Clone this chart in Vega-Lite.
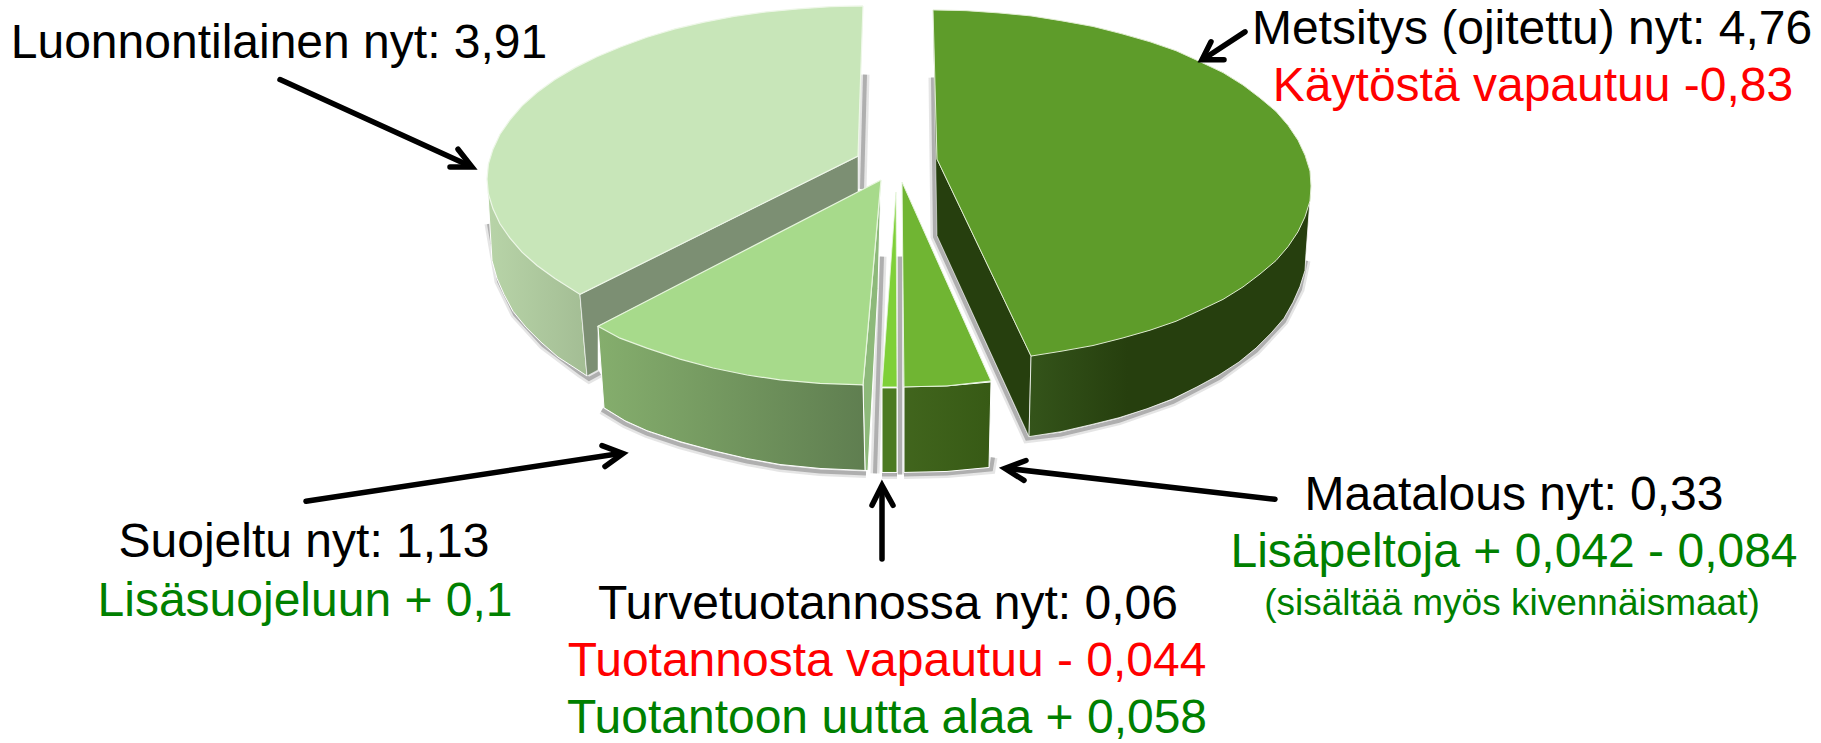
{"$schema":"https://vega.github.io/schema/vega-lite/v6.json","width":1821,"height":743,"padding":0,"autosize":{"type":"fit","contains":"padding"},"background":"white","config":{"view":{"stroke":null}},
"datasets":{
"faces":[
{"part":"s1","i":0,"x":865,"y":75},{"part":"s1","i":1,"x":862,"y":190},
{"part":"s2","i":0,"x":489,"y":225},{"part":"s2","i":1,"x":493,"y":248},{"part":"s2","i":2,"x":499,"y":283},{"part":"s2","i":3,"x":515,"y":316},{"part":"s2","i":4,"x":543,"y":347},{"part":"s2","i":5,"x":580,"y":375},{"part":"s2","i":6,"x":589,"y":381},{"part":"s2","i":7,"x":600,"y":375},
{"part":"s3","i":0,"x":602,"y":412},{"part":"s3","i":1,"x":625,"y":426},{"part":"s3","i":2,"x":647,"y":436},{"part":"s3","i":3,"x":680,"y":447},{"part":"s3","i":4,"x":713,"y":456},{"part":"s3","i":5,"x":747,"y":464},{"part":"s3","i":6,"x":780,"y":470},{"part":"s3","i":7,"x":820,"y":474},{"part":"s3","i":8,"x":866,"y":476},
{"part":"s4","i":0,"x":882,"y":258},{"part":"s4","i":1,"x":875,"y":476},
{"part":"s5","i":0,"x":900,"y":258},{"part":"s5","i":1,"x":900,"y":477},
{"part":"s6","i":0,"x":882,"y":477},{"part":"s6","i":1,"x":897,"y":477},
{"part":"s7","i":0,"x":904,"y":477},{"part":"s7","i":1,"x":947,"y":476},{"part":"s7","i":2,"x":991,"y":472},{"part":"s7","i":3,"x":993,"y":460},
{"part":"s8","i":0,"x":933,"y":78},{"part":"s8","i":1,"x":935,"y":238},{"part":"s8","i":2,"x":1027,"y":441},{"part":"s8","i":3,"x":1061,"y":437},{"part":"s8","i":4,"x":1119,"y":423},{"part":"s8","i":5,"x":1173,"y":404},{"part":"s8","i":6,"x":1219,"y":380},{"part":"s8","i":7,"x":1256,"y":353},{"part":"s8","i":8,"x":1284,"y":323},{"part":"s8","i":9,"x":1300,"y":291},{"part":"s8","i":10,"x":1306,"y":262},

{"part":"luonn_ulko","i":0,"x":487,"y":180},{"part":"luonn_ulko","i":1,"x":491,"y":245},{"part":"luonn_ulko","i":2,"x":492,"y":262},{"part":"luonn_ulko","i":3,"x":497,"y":280},{"part":"luonn_ulko","i":4,"x":504,"y":296},{"part":"luonn_ulko","i":5,"x":513,"y":313},{"part":"luonn_ulko","i":6,"x":526,"y":329},{"part":"luonn_ulko","i":7,"x":541,"y":344},{"part":"luonn_ulko","i":8,"x":558,"y":359},{"part":"luonn_ulko","i":9,"x":578,"y":372},{"part":"luonn_ulko","i":10,"x":587,"y":378},{"part":"luonn_ulko","i":11,"x":580,"y":296},

{"part":"luonn_sisa","i":0,"x":580,"y":296},{"part":"luonn_sisa","i":1,"x":858,"y":157},{"part":"luonn_sisa","i":2,"x":858,"y":195},{"part":"luonn_sisa","i":3,"x":598,"y":328},{"part":"luonn_sisa","i":4,"x":598,"y":372},{"part":"luonn_sisa","i":5,"x":587,"y":378},{"part":"luonn_sisa","i":6,"x":580,"y":296},

{"part":"luonn_top","i":0,"x":863,"y":6},{"part":"luonn_top","i":1,"x":830,"y":6.7},{"part":"luonn_top","i":2,"x":798,"y":9},{"part":"luonn_top","i":3,"x":766,"y":12},{"part":"luonn_top","i":4,"x":734,"y":16.5},{"part":"luonn_top","i":5,"x":704,"y":22.3},{"part":"luonn_top","i":6,"x":675,"y":29},{"part":"luonn_top","i":7,"x":647,"y":37.5},{"part":"luonn_top","i":8,"x":621,"y":47},{"part":"luonn_top","i":9,"x":597,"y":57},{"part":"luonn_top","i":10,"x":575,"y":68},{"part":"luonn_top","i":11,"x":555,"y":80},{"part":"luonn_top","i":12,"x":537,"y":93},{"part":"luonn_top","i":13,"x":522,"y":106.5},{"part":"luonn_top","i":14,"x":510,"y":120.5},{"part":"luonn_top","i":15,"x":500,"y":135},{"part":"luonn_top","i":16,"x":493,"y":150},{"part":"luonn_top","i":17,"x":488.4,"y":165},{"part":"luonn_top","i":18,"x":487,"y":180},{"part":"luonn_top","i":19,"x":488.4,"y":195},{"part":"luonn_top","i":20,"x":493,"y":210},{"part":"luonn_top","i":21,"x":500,"y":225},{"part":"luonn_top","i":22,"x":510,"y":239.5},{"part":"luonn_top","i":23,"x":522,"y":253.5},{"part":"luonn_top","i":24,"x":537,"y":267},{"part":"luonn_top","i":25,"x":555,"y":280},{"part":"luonn_top","i":26,"x":580,"y":296},{"part":"luonn_top","i":27,"x":858,"y":157},{"part":"luonn_top","i":28,"x":863,"y":6},

{"part":"suoj_ohut","i":0,"x":881,"y":181},{"part":"suoj_ohut","i":1,"x":863,"y":387},{"part":"suoj_ohut","i":2,"x":865,"y":473},{"part":"suoj_ohut","i":3,"x":868,"y":473},{"part":"suoj_ohut","i":4,"x":878,"y":290},{"part":"suoj_ohut","i":5,"x":881,"y":181},

{"part":"suoj_ulko","i":0,"x":598,"y":328},{"part":"suoj_ulko","i":1,"x":604,"y":410},{"part":"suoj_ulko","i":2,"x":625,"y":423},{"part":"suoj_ulko","i":3,"x":647,"y":433},{"part":"suoj_ulko","i":4,"x":680,"y":444},{"part":"suoj_ulko","i":5,"x":713,"y":453},{"part":"suoj_ulko","i":6,"x":747,"y":461},{"part":"suoj_ulko","i":7,"x":780,"y":467},{"part":"suoj_ulko","i":8,"x":820,"y":471},{"part":"suoj_ulko","i":9,"x":865,"y":473},{"part":"suoj_ulko","i":10,"x":863,"y":387},{"part":"suoj_ulko","i":11,"x":598,"y":328},

{"part":"suoj_top","i":0,"x":881,"y":181},{"part":"suoj_top","i":1,"x":598,"y":328},{"part":"suoj_top","i":2,"x":620,"y":340},{"part":"suoj_top","i":3,"x":647,"y":350},{"part":"suoj_top","i":4,"x":680,"y":361},{"part":"suoj_top","i":5,"x":713,"y":370},{"part":"suoj_top","i":6,"x":747,"y":377},{"part":"suoj_top","i":7,"x":780,"y":382},{"part":"suoj_top","i":8,"x":820,"y":385.5},{"part":"suoj_top","i":9,"x":863,"y":387},{"part":"suoj_top","i":10,"x":881,"y":181},

{"part":"turve_ulko","i":0,"x":882,"y":390},{"part":"turve_ulko","i":1,"x":897,"y":390},{"part":"turve_ulko","i":2,"x":897,"y":475},{"part":"turve_ulko","i":3,"x":882,"y":475},{"part":"turve_ulko","i":4,"x":882,"y":390},

{"part":"turve_top","i":0,"x":896,"y":193},{"part":"turve_top","i":1,"x":897,"y":389},{"part":"turve_top","i":2,"x":882,"y":389},{"part":"turve_top","i":3,"x":896,"y":193},

{"part":"maat_ulko","i":0,"x":904,"y":389},{"part":"maat_ulko","i":1,"x":947,"y":388},{"part":"maat_ulko","i":2,"x":991,"y":384},{"part":"maat_ulko","i":3,"x":989,"y":470},{"part":"maat_ulko","i":4,"x":947,"y":474},{"part":"maat_ulko","i":5,"x":904,"y":475},{"part":"maat_ulko","i":6,"x":904,"y":389},

{"part":"maat_top","i":0,"x":902,"y":183},{"part":"maat_top","i":1,"x":991,"y":383},{"part":"maat_top","i":2,"x":947,"y":388},{"part":"maat_top","i":3,"x":904,"y":389},{"part":"maat_top","i":4,"x":902,"y":183},

{"part":"metsi_sisa","i":0,"x":937,"y":160},{"part":"metsi_sisa","i":1,"x":1031,"y":358},{"part":"metsi_sisa","i":2,"x":1029,"y":439},{"part":"metsi_sisa","i":3,"x":937,"y":237},{"part":"metsi_sisa","i":4,"x":933,"y":10},{"part":"metsi_sisa","i":5,"x":937,"y":160},

{"part":"metsi_ulko","i":0,"x":1311,"y":187},{"part":"metsi_ulko","i":1,"x":1306,"y":255},{"part":"metsi_ulko","i":2,"x":1305,"y":272},{"part":"metsi_ulko","i":3,"x":1300,"y":288},{"part":"metsi_ulko","i":4,"x":1293,"y":304},{"part":"metsi_ulko","i":5,"x":1284,"y":320},{"part":"metsi_ulko","i":6,"x":1271,"y":335},{"part":"metsi_ulko","i":7,"x":1256,"y":350},{"part":"metsi_ulko","i":8,"x":1239,"y":364},{"part":"metsi_ulko","i":9,"x":1219,"y":377},{"part":"metsi_ulko","i":10,"x":1197,"y":389},{"part":"metsi_ulko","i":11,"x":1173,"y":401},{"part":"metsi_ulko","i":12,"x":1147,"y":411},{"part":"metsi_ulko","i":13,"x":1119,"y":420},{"part":"metsi_ulko","i":14,"x":1091,"y":427},{"part":"metsi_ulko","i":15,"x":1061,"y":434},{"part":"metsi_ulko","i":16,"x":1029,"y":439},{"part":"metsi_ulko","i":17,"x":1031,"y":358},{"part":"metsi_ulko","i":18,"x":1311,"y":187},

{"part":"metsi_top","i":0,"x":933,"y":10},{"part":"metsi_top","i":1,"x":966,"y":10.7},{"part":"metsi_top","i":2,"x":999,"y":13},{"part":"metsi_top","i":3,"x":1031,"y":16},{"part":"metsi_top","i":4,"x":1062,"y":21},{"part":"metsi_top","i":5,"x":1093,"y":26.6},{"part":"metsi_top","i":6,"x":1122,"y":34},{"part":"metsi_top","i":7,"x":1150,"y":42},{"part":"metsi_top","i":8,"x":1176,"y":51},{"part":"metsi_top","i":9,"x":1200,"y":62},{"part":"metsi_top","i":10,"x":1223,"y":73},{"part":"metsi_top","i":11,"x":1243,"y":85.5},{"part":"metsi_top","i":12,"x":1260,"y":98.5},{"part":"metsi_top","i":13,"x":1276,"y":112},{"part":"metsi_top","i":14,"x":1288,"y":126},{"part":"metsi_top","i":15,"x":1298,"y":141},{"part":"metsi_top","i":16,"x":1305,"y":156},{"part":"metsi_top","i":17,"x":1310,"y":172},{"part":"metsi_top","i":18,"x":1311,"y":187},{"part":"metsi_top","i":19,"x":1310,"y":202},{"part":"metsi_top","i":20,"x":1305,"y":218},{"part":"metsi_top","i":21,"x":1298,"y":233},{"part":"metsi_top","i":22,"x":1288,"y":248},{"part":"metsi_top","i":23,"x":1276,"y":262},{"part":"metsi_top","i":24,"x":1260,"y":275.5},{"part":"metsi_top","i":25,"x":1243,"y":288.5},{"part":"metsi_top","i":26,"x":1223,"y":301},{"part":"metsi_top","i":27,"x":1200,"y":312},{"part":"metsi_top","i":28,"x":1176,"y":323},{"part":"metsi_top","i":29,"x":1150,"y":332},{"part":"metsi_top","i":30,"x":1122,"y":340},{"part":"metsi_top","i":31,"x":1093,"y":347.4},{"part":"metsi_top","i":32,"x":1062,"y":353},{"part":"metsi_top","i":33,"x":1031,"y":358},{"part":"metsi_top","i":34,"x":937,"y":160},{"part":"metsi_top","i":35,"x":933,"y":10}
],
"arrows":[
{"part":"a1","i":0,"x":280,"y":80},{"part":"a1","i":1,"x":470,"y":167},
{"part":"a1b","i":0,"x":458,"y":150},{"part":"a1b","i":1,"x":472,"y":168},{"part":"a1b","i":2,"x":450,"y":168},
{"part":"a2","i":0,"x":1245,"y":32},{"part":"a2","i":1,"x":1204,"y":59},
{"part":"a2b","i":0,"x":1211,"y":42},{"part":"a2b","i":1,"x":1202,"y":60},{"part":"a2b","i":2,"x":1224,"y":60},
{"part":"a3","i":0,"x":306,"y":504},{"part":"a3","i":1,"x":620,"y":456},
{"part":"a3b","i":0,"x":602,"y":448},{"part":"a3b","i":1,"x":623,"y":456},{"part":"a3b","i":2,"x":605,"y":469},
{"part":"a4","i":0,"x":1275,"y":502},{"part":"a4","i":1,"x":1008,"y":471},
{"part":"a4b","i":0,"x":1026,"y":463},{"part":"a4b","i":1,"x":1005,"y":471},{"part":"a4b","i":2,"x":1024,"y":483},
{"part":"a5","i":0,"x":882,"y":562},{"part":"a5","i":1,"x":882,"y":491},
{"part":"a5b","i":0,"x":872,"y":508},{"part":"a5b","i":1,"x":882,"y":488},{"part":"a5b","i":2,"x":893,"y":508}
],
"labels":[
{"label":"Luonnontilainen nyt: 3,91","tone":"nyt","kind":"main","x":279,"y":44},
{"label":"Metsitys (ojitettu) nyt: 4,76","tone":"nyt","kind":"main","x":1532,"y":30},
{"label":"Käytöstä vapautuu -0,83","tone":"vahenee","kind":"main","x":1533,"y":87},
{"label":"Maatalous nyt: 0,33","tone":"nyt","kind":"main","x":1514,"y":499},
{"label":"Lisäpeltoja + 0,042 - 0,084","tone":"lisaa","kind":"main","x":1514,"y":556},
{"label":"(sisältää myös kivennäismaat)","tone":"lisaa","kind":"note","x":1512,"y":607},
{"label":"Turvetuotannossa nyt: 0,06","tone":"nyt","kind":"main","x":888,"y":608},
{"label":"Tuotannosta vapautuu - 0,044","tone":"vahenee","kind":"main","x":887,"y":666},
{"label":"Tuotantoon uutta alaa + 0,058","tone":"lisaa","kind":"main","x":887,"y":723},
{"label":"Suojeltu nyt: 1,13","tone":"nyt","kind":"main","x":304,"y":546},
{"label":"Lisäsuojeluun + 0,1","tone":"lisaa","kind":"main","x":305,"y":605}
]},
"data":{"name":"faces"},
"encoding":{"x":{"field":"x","type":"quantitative","scale":{"domain":[0,1821],"nice":false,"zero":false},"axis":null},"y":{"field":"y","type":"quantitative","scale":{"domain":[743,0],"nice":false,"zero":false},"axis":null}},
"layer":[
{"transform":[{"filter":"indexof(datum.part,'s')==0 && length(datum.part)==2"}],"mark":{"type":"line","stroke":"#999999","strokeWidth":9,"opacity":0.25},"encoding":{"detail":{"field":"part"},"order":{"field":"i","type":"quantitative"}}},
{"transform":[{"filter":"indexof(datum.part,'s')==0 && length(datum.part)==2"}],"mark":{"type":"line","stroke":"#8a8a8a","strokeWidth":4,"opacity":0.6},"encoding":{"detail":{"field":"part"},"order":{"field":"i","type":"quantitative"}}},
{"transform":[{"filter":"datum.part=='luonn_ulko'"}],"mark":{"type":"line","stroke":"#ffffff","strokeWidth":1,"fill":{"gradient":"linear","x1":0,"x2":1,"y1":0,"y2":0,"stops":[{"offset":0,"color":"#b8d4a8"},{"offset":1,"color":"#a3bd94"}]}},"encoding":{"order":{"field":"i","type":"quantitative"}}},
{"transform":[{"filter":"datum.part=='luonn_sisa'"}],"mark":{"type":"line","stroke":"#ffffff","strokeWidth":0.5,"fill":"#7c8f73"},"encoding":{"order":{"field":"i","type":"quantitative"}}},
{"transform":[{"filter":"datum.part=='luonn_top'"}],"mark":{"type":"line","stroke":"#eef7e8","strokeWidth":1.2,"fill":"#c8e6b9"},"encoding":{"order":{"field":"i","type":"quantitative"}}},
{"transform":[{"filter":"datum.part=='suoj_ohut'"}],"mark":{"type":"line","stroke":"#ffffff","strokeWidth":1,"fill":"#8db97a"},"encoding":{"order":{"field":"i","type":"quantitative"}}},
{"transform":[{"filter":"datum.part=='suoj_ulko'"}],"mark":{"type":"line","stroke":"#ffffff","strokeWidth":1,"fill":{"gradient":"linear","x1":0,"x2":1,"y1":0,"y2":0,"stops":[{"offset":0,"color":"#85ae6d"},{"offset":1,"color":"#5f7e50"}]}},"encoding":{"order":{"field":"i","type":"quantitative"}}},
{"transform":[{"filter":"datum.part=='suoj_top'"}],"mark":{"type":"line","stroke":"#e6f5dc","strokeWidth":1.2,"fill":"#a7da8b"},"encoding":{"order":{"field":"i","type":"quantitative"}}},
{"transform":[{"filter":"datum.part=='turve_ulko'"}],"mark":{"type":"line","stroke":"#ffffff","strokeWidth":1,"fill":"#4c7a22"},"encoding":{"order":{"field":"i","type":"quantitative"}}},
{"transform":[{"filter":"datum.part=='turve_top'"}],"mark":{"type":"line","stroke":"#e6f5dc","strokeWidth":0.8,"fill":"#7fd038"},"encoding":{"order":{"field":"i","type":"quantitative"}}},
{"transform":[{"filter":"datum.part=='maat_ulko'"}],"mark":{"type":"line","stroke":"#ffffff","strokeWidth":1,"fill":{"gradient":"linear","x1":0,"x2":1,"y1":0,"y2":0,"stops":[{"offset":0,"color":"#41651d"},{"offset":1,"color":"#375a15"}]}},"encoding":{"order":{"field":"i","type":"quantitative"}}},
{"transform":[{"filter":"datum.part=='maat_top'"}],"mark":{"type":"line","stroke":"#e6f5dc","strokeWidth":1,"fill":"#70b533"},"encoding":{"order":{"field":"i","type":"quantitative"}}},
{"transform":[{"filter":"datum.part=='metsi_sisa'"}],"mark":{"type":"line","stroke":"#ffffff","strokeWidth":0.5,"fill":"#263f0e"},"encoding":{"order":{"field":"i","type":"quantitative"}}},
{"transform":[{"filter":"datum.part=='metsi_ulko'"}],"mark":{"type":"line","stroke":"#ffffff","strokeWidth":0.8,"fill":{"gradient":"linear","x1":0,"x2":1,"y1":0,"y2":0,"stops":[{"offset":0,"color":"#34541a"},{"offset":0.35,"color":"#263f0e"},{"offset":1,"color":"#263f0e"}]}},"encoding":{"order":{"field":"i","type":"quantitative"}}},
{"transform":[{"filter":"datum.part=='metsi_top'"}],"mark":{"type":"line","stroke":"#dfeccf","strokeWidth":1,"fill":"#5e9c2a"},"encoding":{"order":{"field":"i","type":"quantitative"}}},
{"data":{"name":"arrows"},"mark":{"type":"line","stroke":"#000000","strokeWidth":5.5,"strokeCap":"round","strokeJoin":"miter"},"encoding":{"detail":{"field":"part"},"order":{"field":"i","type":"quantitative"}}},
{"data":{"name":"labels"},"transform":[{"filter":"datum.kind=='main'"}],"mark":{"type":"text","font":"Liberation Sans","fontSize":48,"align":"center","baseline":"middle"},"encoding":{"text":{"field":"label"},"color":{"field":"tone","scale":{"domain":["nyt","vahenee","lisaa"],"range":["#000000","#ff0000","#008000"]},"legend":null}}},
{"data":{"name":"labels"},"transform":[{"filter":"datum.kind=='note'"}],"mark":{"type":"text","font":"Liberation Sans","fontSize":37,"align":"center","baseline":"middle"},"encoding":{"text":{"field":"label"},"color":{"field":"tone","scale":{"domain":["nyt","vahenee","lisaa"],"range":["#000000","#ff0000","#008000"]},"legend":null}}}
]}
